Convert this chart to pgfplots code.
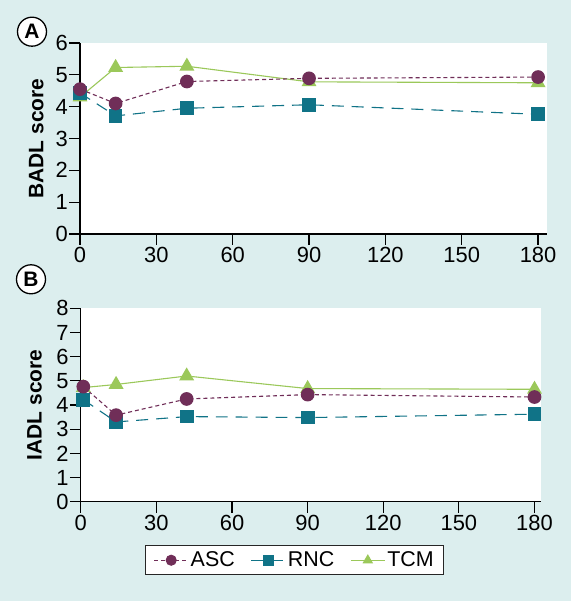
\documentclass[border=0pt]{standalone}
\usepackage{fontspec}
\setmainfont{Liberation Sans}
\usepackage{pgfplots}
\pgfplotsset{compat=1.18}
\definecolor{bg}{RGB}{220,238,238}
\definecolor{asc}{RGB}{112,46,88}
\definecolor{rnc}{RGB}{16,115,135}
\definecolor{tcm}{RGB}{155,200,90}
\pgfplotsset{
  mystyle/.style={
    scale only axis,
    axis x line*=bottom, axis y line*=left,
    axis line style={line width=1.2pt, -},
    axis background/.style={fill=white},
    tick align=outside, major tick length=11bp,
    tick style={line width=1.2pt, black},
    xtick={0,30,...,180},
    xmin=0, ymin=0,
    /pgf/number format/assume math mode=true,
    tick label style={font=\fontsize{22}{24}\selectfont},
    label style={font=\bfseries\fontsize{21}{23}\selectfont},
    xticklabel style={inner sep=1pt, yshift=-1bp},
    yticklabel style={inner sep=1pt},
    clip=false,
  },
  ascs/.style={color=asc, line width=1.1pt, dash pattern=on 4pt off 3pt, mark=*, mark size=6.3bp, mark options={solid, fill=asc, draw=asc}},
  rncs/.style={color=rnc, line width=1.1pt, dash pattern=on 12pt off 8pt, mark=square*, mark size=6.3bp, mark options={solid, fill=rnc, draw=rnc}},
  tcms/.style={color=tcm, line width=1.1pt, mark=triangle*, mark size=7.5bp, mark options={solid, fill=tcm, draw=tcm}},
}
\begin{document}
\begin{tikzpicture}
\fill[bg] (0,0) rectangle (571bp,601bp);
% Panel A
\begin{axis}[mystyle,
  at={(80bp,367bp)}, anchor=south west,
  width=467bp, height=191bp,
  xmax=183.5, ymax=6, ytick={0,1,...,6},
  ylabel={BADL score},
  ylabel style={at={(axis description cs:-0.0934,0.5)}, anchor=center},
]
\addplot[tcms] coordinates {(0,4.30) (14,5.23) (42,5.27) (90,4.78) (180,4.75)};
\addplot[rncs] coordinates {(0,4.43) (14,3.71) (42,3.95) (90,4.06) (180,3.76)};
\addplot[ascs] coordinates {(0,4.55) (14,4.10) (42,4.79) (90,4.89) (180,4.93)};
\end{axis}
% Panel B
\begin{axis}[mystyle,
  at={(80.8bp,99.3bp)}, anchor=south west,
  width=460bp, height=193.4bp,
  xmax=182.5, ymax=8, ytick={0,1,...,8},
  ylabel={IADL score},
  ylabel style={at={(axis description cs:-0.1004,0.5)}, anchor=center},
  reverse legend,
  legend columns=3,
  legend style={at={(0.465,-0.224)}, anchor=north, draw=black!85, line width=1pt,
    font=\fontsize{21.5}{23}\selectfont, inner xsep=8bp, inner ysep=4.5bp,
    /tikz/every even column/.append style={column sep=14bp}},
  legend image code/.code={\draw[mark repeat=2,mark phase=2,#1,mark size=5bp] plot coordinates {(0bp,0bp) (17bp,0bp) (34bp,0bp)};},
]
\addplot[tcms] coordinates {(1,4.72) (14,4.85) (42,5.20) (90,4.68) (180,4.65)};
\addlegendentry{TCM}
\addplot[rncs] coordinates {(1,4.22) (14,3.30) (42,3.52) (90,3.48) (180,3.62)};
\addlegendentry{RNC}
\addplot[ascs] coordinates {(1,4.76) (14,3.58) (42,4.25) (90,4.43) (180,4.33)};
\addlegendentry{ASC}
\end{axis}
\node[circle, draw, line width=1.3pt, fill=white, inner sep=0pt, minimum size=29bp, font=\bfseries\fontsize{21}{23}\selectfont] at (32bp,569.3bp) {A};
\node[circle, draw, line width=1.3pt, fill=white, inner sep=0pt, minimum size=29bp, font=\bfseries\fontsize{21}{23}\selectfont] at (31bp,321.7bp) {B};
\pgfresetboundingbox
\path (0,0) rectangle (571bp,601bp);
\end{tikzpicture}
\end{document}
